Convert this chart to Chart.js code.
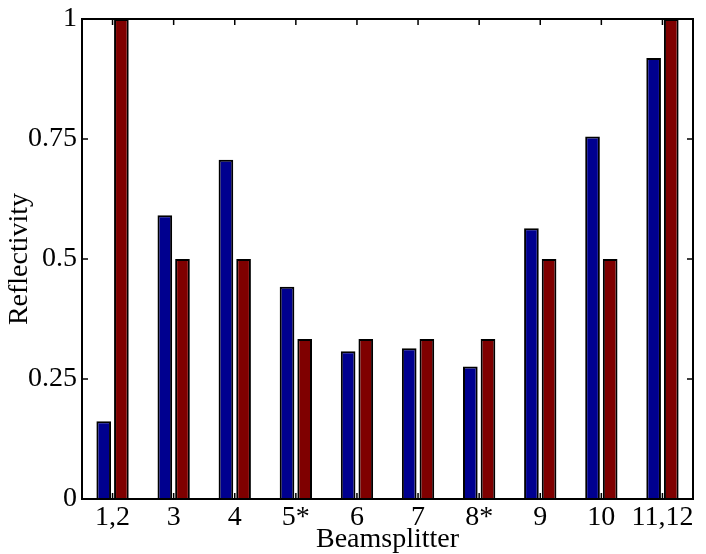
<!DOCTYPE html>
<html>
<head>
<meta charset="utf-8">
<script src="https://cdn.jsdelivr.net/npm/chart.js@4.4.1/dist/chart.umd.min.js"></script>
<style>
html,body{margin:0;padding:0;background:#fff;}
#wrap{width:706px;height:554px;}
</style>
</head>
<body>
<div id="wrap"><canvas id="c" width="706" height="554"></canvas></div>
<script>
const categories = ['1,2','3','4','5*','6','7','8*','9','10','11,12'];
const measured = [0.162, 0.591, 0.707, 0.442, 0.308, 0.314, 0.276, 0.564, 0.755, 0.919];
const ideal = [1, 0.5, 0.5, 1/3, 1/3, 1/3, 1/3, 0.5, 0.5, 1];
const yTicks = [0, 0.25, 0.5, 0.75, 1];
const yTickLabels = ['0', '0.25', '0.5', '0.75', '1'];

const FONT = "'Liberation Serif', 'DejaVu Serif', serif";

const frame = {
  id: 'frame',
  afterDatasetsDraw(chart) {
    const {ctx, chartArea: a, scales} = chart;
    ctx.save();
    ctx.strokeStyle = '#000';
    ctx.lineWidth = 1.5;
    const L = 6;
    ctx.beginPath();
    categories.forEach((c, i) => {
      const x = scales.x.getPixelForTick(i);
      ctx.moveTo(x, a.bottom); ctx.lineTo(x, a.bottom - L);
      ctx.moveTo(x, a.top); ctx.lineTo(x, a.top + L);
    });
    yTicks.forEach(v => {
      const y = scales.y.getPixelForValue(v);
      ctx.moveTo(a.left, y); ctx.lineTo(a.left + L, y);
      ctx.moveTo(a.right, y); ctx.lineTo(a.right - L, y);
    });
    ctx.stroke();
    ctx.lineWidth = 2;
    ctx.strokeRect(a.left, a.top, a.right - a.left, a.bottom - a.top);
    ctx.restore();
  }
};

new Chart(document.getElementById('c'), {
  type: 'bar',
  data: {
    labels: categories,
    datasets: [
      {label: 'measured', data: measured, backgroundColor: '#00008f', borderColor: '#000', borderWidth: 2,
       barPercentage: 0.83, categoryPercentage: 0.578},
      {label: 'ideal', data: ideal, backgroundColor: '#7f0000', borderColor: '#000', borderWidth: 2,
       barPercentage: 0.83, categoryPercentage: 0.578}
    ]
  },
  options: {
    responsive: false,
    animation: false,
    devicePixelRatio: 1,
    layout: {padding: {left: 0, right: 13, top: 15, bottom: 0}},
    plugins: {legend: {display: false}, tooltip: {enabled: false}},
    scales: {
      x: {
        grid: {display: false, drawTicks: false},
        border: {display: false},
        ticks: {color: '#000', font: {family: FONT, size: 28, lineHeight: 1}, padding: 5, maxRotation: 0, autoSkip: false},
        title: {display: true, text: 'Beamsplitter', color: '#000', font: {family: FONT, size: 28, lineHeight: 1}, padding: {top: 0, bottom: 0}},
        afterFit(s) { s.height = 55; }
      },
      y: {
        min: 0, max: 1,
        grid: {display: false, drawTicks: false},
        border: {display: false},
        afterBuildTicks(s) { s.ticks = yTicks.map(v => ({value: v})); },
        ticks: {color: '#000', font: {family: FONT, size: 28, lineHeight: 1}, padding: 5,
          callback: (v) => yTickLabels[yTicks.indexOf(v)]},
        title: {display: true, text: 'Reflectivity', color: '#000', font: {family: FONT, size: 28, lineHeight: 1}, padding: {top: 6, bottom: 0}},
        afterFit(s) { s.width = 82; }
      }
    }
  },
  plugins: [frame]
});
</script>
</body>
</html>
